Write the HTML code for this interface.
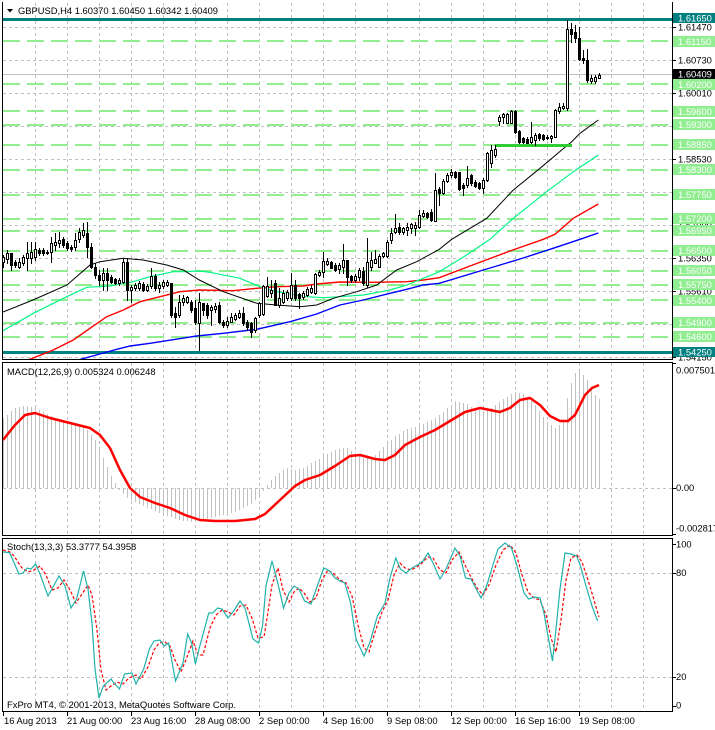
<!DOCTYPE html>
<html><head><meta charset="utf-8">
<style>
html,body{margin:0;padding:0;background:#fff;}
svg{display:block;}
text{font-family:"Liberation Sans",Arial,sans-serif;font-size:9.4px;fill:#000;}
.w{fill:#fff;}
</style></head><body>
<svg id="c" width="715" height="730" viewBox="0 0 715 730" xmlns="http://www.w3.org/2000/svg">
<defs>
<clipPath id="cm"><rect x="3" y="2" width="669" height="357"/></clipPath>
<clipPath id="cd"><rect x="3" y="363" width="669" height="172"/></clipPath>
<clipPath id="cs"><rect x="3" y="539" width="669" height="172"/></clipPath>
</defs>
<rect x="0" y="0" width="715" height="730" fill="#fff"/>

<!-- vertical grid -->
<path shape-rendering="crispEdges" stroke="#c0c0c0" stroke-dasharray="3,3" fill="none" d="M35.5 3V711M67.5 3V711M99.5 3V711M131.5 3V711M163.5 3V711M195.5 3V711M227.5 3V711M259.5 3V711M291.5 3V711M323.5 3V711M355.5 3V711M387.5 3V711M419.5 3V711M451.5 3V711M483.5 3V711M515.5 3V711M547.5 3V711M579.5 3V711M611.5 3V711M643.5 3V711"/>
<rect x="3" y="360" width="669" height="2" fill="#fff"/>
<rect x="3" y="536" width="669" height="2" fill="#fff"/>
<!-- horizontal grid main -->
<path shape-rendering="crispEdges" stroke="#c0c0c0" stroke-dasharray="3,3" fill="none" d="M3 27.5H672M3 60.5H672M3 93.5H672M3 126.5H672M3 159.5H672M3 192.5H672M3 225.5H672M3 258.5H672M3 291.5H672M3 324.5H672M3 357.5H672M3 488.5H672M3 573.5H672M3 677.5H672"/>
<!-- green dashed levels -->
<path shape-rendering="crispEdges" stroke="#90ee90" stroke-width="2" stroke-dasharray="17,7" fill="none" d="M3 41H672M3 84H672M3 111H672M3 125H672M3 145H672M3 170H672M3 195H672M3 219H672M3 231H672M3 251H672M3 271H672M3 285H672M3 300H672M3 323H672M3 337H672"/>
<!-- current price line -->
<path shape-rendering="crispEdges" stroke="#c0c0c0" d="M3 74.5H672"/>
<!-- teal lines -->
<path shape-rendering="crispEdges" stroke="#008080" stroke-width="3" d="M3 19.5H672M3 352.5H672"/>

<g clip-path="url(#cm)" fill="none">
<polyline stroke="#0000ff" stroke-width="1.4" points="78,360 100,354 116.7,349.3 130,346 150,343.3 188.3,337.3 196.7,336 223.3,333.3 256.7,329.3 290,321.7 316.7,314 340,305 363.3,300 390,293.3 406.7,289.3 423.3,285 439.3,283.3 480,271 520,259 555,247.7 580,239.3 598.3,233"/>
<polyline stroke="#ff0000" stroke-width="1.4" points="28,360 51.7,350.7 73.3,340 90,328.3 106.7,316.7 123.3,310 140,301.7 160,296.7 180,291.7 199.3,290 233.3,290.7 256.7,288.3 276.7,286.7 303.3,286 316.7,284 340,282 373.3,282.3 406.7,281.7 423.3,280 439.3,277.7 470,266 510,251 543.3,239.3 555,234.3 573.3,218.3 598.3,204"/>
<polyline stroke="#00f585" stroke-width="1.2" points="3,330.7 33.3,313.3 66.7,296.7 86.7,287.3 110,286 133.3,281.7 150,276.7 173.3,271.7 185,271.7 199.3,271 210,272.3 240,278.3 260,286.7 276.7,291.7 306.7,296.7 323.3,297.7 340,296.7 363.3,295 390,290 406.7,285 423.3,278.3 439.3,271.7 465,256 490,239.3 513.3,218.3 546.7,191.7 573.3,171.7 598.3,155"/>
<polyline stroke="#000" stroke-width="1" points="3,312 33,300 67,285 90,265 100,261.7 123.3,258.3 143.3,260 166.7,265 183.3,270 199.3,280 223.3,291.7 256.7,303.3 276.7,305 300,306.7 316.7,305 333.3,298.3 356.7,291.7 376.7,285 396.7,270 416.7,261.7 439.3,249.3 451.7,239.3 486.7,218.3 513.3,190 540,168.3 561.7,150 571.7,141.7 580,133.3 598.3,120"/>
<path shape-rendering="crispEdges" stroke="#32cd32" stroke-width="3" d="M495 145.5H572"/>
<g id="candles" shape-rendering="crispEdges"></g>
</g>

<!-- MACD -->
<g clip-path="url(#cd)">
<g id="hist" shape-rendering="crispEdges" stroke="#c0c0c0"></g>
<polyline fill="none" stroke="#ff0000" stroke-width="2.5" stroke-linejoin="round" points="3,440 15,425 25,415 35,413 50,418 70,423 90,428 100,435 110,448 120,470 130,488 140,497 155,503 170,508 185,515 200,520 215,521 235,521 255,519 265,514 280,500 295,486 305,480 320,475 335,466 350,456 360,455 375,459 385,460 395,455 405,445 420,437 435,430 450,421 465,412 480,408 490,410 500,412 510,408 520,400 530,398 540,405 550,416 560,421 568,421 575,415 585,395 592,388 599,385"/>
</g>

<!-- Stoch -->
<g clip-path="url(#cs)" fill="none">
<polyline stroke="#ff0000" stroke-width="1.2" stroke-dasharray="3,2" points="3,550 10,552 14,556 22,568 28,572 34,570 40,566 46,575 52,590 58,588 64,580 70,590 76,603 82,594 88,585 92,595 97,630 101,670 106,690 111,686 117,682 123,684 129,678 136,675 141,679 148,667 154,650 159,643 165,642 170,646 175,660 181,672 187,657 193,641 198,655 203,655 210,628 216,615 222,610 228,612 234,615 240,606 246,605 252,618 258,638 264,637 268,612 272,585 278,568 283,590 289,602 294,592 299,588 304,593 310,602 316,598 322,580 328,570 334,574 340,580 346,583 352,596 358,625 364,648 369,652 375,632 382,612 388,600 394,575 400,563 405,568 411,570 417,567 422,563 428,557 433,558 440,570 446,573 452,560 459,552 465,565 471,577 477,588 483,595 489,585 496,565 503,550 510,545 516,553 522,575 528,592 534,598 540,600 546,615 551,638 556,652 561,620 566,580 571,558 577,555 582,562 588,580 594,600 599,617"/>
<polyline stroke="#20b2aa" stroke-width="1.2" points="3,552 9.6,552.7 19,574 23,573 27,568 31,569 35.6,564 40,574 48,596 53.6,586 59,576 65,586 71,608 76.6,599 83.5,571 88,589 92,623 95,669 99,698 103.4,686 111,679 114,683 119.5,689 124.5,674 132,673 136,684 143.7,669 149.4,649 154,641 160,640 164,646 168.6,643 175.5,681 183,663 187.7,634 191.6,643 195.4,664 199,649 208.8,613 212.6,613 217.6,608 222,609 228,618 233.7,611 240,601 245,608 253,639 258.6,643 262.5,626 266,586 272,561 277.8,583 283.5,608 289,593 294,586 299,589 304.6,601 311,604 318,584 323.8,568 329.5,571 335,578 340,581 344.8,583 350.6,603 356,639 364,656 369.7,643 377.4,616 385,603 390,578 395.8,558 400.4,569 406,573 412,568 417.6,565 423,561 428,553 433,563 440,579 446,569 455,548 460,556 465.5,578 471,579 481,598 486.6,586 492,568 498,549 505,543 511.5,548 517,566 524,593 528.7,599 534.5,597 540,598 544,613 548,636 552.5,661 555.6,633 560,589 565,553 571,554 576.6,556 580.5,566 586,586 592,606 597.7,621"/>
</g>

<!-- panel borders -->
<g shape-rendering="crispEdges" fill="none" stroke="#000">
<path d="M2.5 2V359.5H672.5V2"/>
<rect x="2.5" y="362.5" width="670" height="173"/>
<rect x="2.5" y="538.5" width="670" height="173"/>
<path d="M672 27.5h4M672 60.5h4M672 93.5h4M672 126.5h4M672 159.5h4M672 192.5h4M672 225.5h4M672 258.5h4M672 291.5h4M672 324.5h4M672 357.5h4M672 363.5h4M672 488.5h4M672 534.5h4M672 544.5h4M672 573.5h4M672 677.5h4M672 706.5h4"/>
<path d="M3.5 712v4M67.5 712v4M131.5 712v4M195.5 712v4M259.5 712v4M323.5 712v4M387.5 712v4M451.5 712v4M515.5 712v4M579.5 712v4"/>
</g>

<!-- header -->
<polygon points="7,9 13,9 10,12.5" fill="#000"/>
<text x="18" y="14" textLength="200" lengthAdjust="spacingAndGlyphs">GBPUSD,H4  1.60370 1.60450 1.60342 1.60409</text>
<text x="7" y="375">MACD(12,26,9) 0.005324 0.006248</text>
<text x="7" y="550">Stoch(13,3,3) 53.3777 54.3958</text>
<text x="7" y="708" textLength="229" lengthAdjust="spacingAndGlyphs">FxPro MT4, © 2001-2013, MetaQuotes Software Corp.</text>

<!-- black axis labels main -->
<g>
<text x="678" y="30.4">1.61470</text>
<text x="678" y="63.4">1.60730</text>
<text x="678" y="96.4">1.60010</text>
<text x="678" y="129.4">1.59270</text>
<text x="678" y="162.4">1.58530</text>
<text x="678" y="195.4">1.57810</text>
<text x="678" y="228.4">1.57090</text>
<text x="678" y="261.4">1.56350</text>
<text x="678" y="294.4">1.55610</text>
<text x="678" y="327.4">1.54890</text>
<text x="678" y="360.4">1.54150</text>
</g>
<!-- colored labels -->
<g shape-rendering="crispEdges">
<rect x="673" y="36" width="42" height="11" fill="#90ee90"/>
<rect x="673" y="79" width="42" height="11" fill="#90ee90"/>
<rect x="673" y="106" width="42" height="11" fill="#90ee90"/>
<rect x="673" y="119" width="42" height="11" fill="#90ee90"/>
<rect x="673" y="139" width="42" height="11" fill="#90ee90"/>
<rect x="673" y="164" width="42" height="11" fill="#90ee90"/>
<rect x="673" y="189" width="42" height="11" fill="#90ee90"/>
<rect x="673" y="213" width="42" height="11" fill="#90ee90"/>
<rect x="673" y="225" width="42" height="11" fill="#90ee90"/>
<rect x="673" y="245" width="42" height="11" fill="#90ee90"/>
<rect x="673" y="265" width="42" height="11" fill="#90ee90"/>
<rect x="673" y="279" width="42" height="11" fill="#90ee90"/>
<rect x="673" y="295" width="42" height="11" fill="#90ee90"/>
<rect x="673" y="317" width="42" height="11" fill="#90ee90"/>
<rect x="673" y="331" width="42" height="11" fill="#90ee90"/>
<rect x="673" y="13" width="42" height="10" fill="#008080"/>
<rect x="673" y="347" width="42" height="10" fill="#008080"/>
<rect x="673" y="69" width="42" height="10" fill="#000"/>
</g>
<g class="w">
<text class="w" x="678" y="45">1.61150</text>
<text class="w" x="678" y="88">1.60200</text>
<text class="w" x="678" y="115">1.59600</text>
<text class="w" x="678" y="128">1.59300</text>
<text class="w" x="678" y="148">1.58850</text>
<text class="w" x="678" y="173">1.58300</text>
<text class="w" x="678" y="198">1.57750</text>
<text class="w" x="678" y="222">1.57200</text>
<text class="w" x="678" y="234">1.56950</text>
<text class="w" x="678" y="254">1.56500</text>
<text class="w" x="678" y="274">1.56050</text>
<text class="w" x="678" y="288">1.55750</text>
<text class="w" x="678" y="304">1.55400</text>
<text class="w" x="678" y="326">1.54900</text>
<text class="w" x="678" y="340">1.54600</text>
<text class="w" x="678" y="21.5">1.61650</text>
<text class="w" x="678" y="355.5">1.54250</text>
<text class="w" x="678" y="77.5">1.60409</text>
</g>

<!-- MACD / Stoch axis labels -->
<text x="676" y="373.3">0.007501</text>
<text x="676" y="491">0.00</text>
<text x="676" y="531.7">-0.002817</text>
<text x="676" y="547.7">100</text>
<text x="676" y="576">80</text>
<text x="676" y="680">20</text>
<text x="676" y="708.5">0</text>

<!-- x axis labels -->
<text x="4" y="724">16 Aug 2013</text>
<text x="67" y="724">21 Aug 00:00</text>
<text x="131" y="724">23 Aug 16:00</text>
<text x="195" y="724">28 Aug 08:00</text>
<text x="259" y="724">2 Sep 00:00</text>
<text x="323" y="724">4 Sep 16:00</text>
<text x="387" y="724">9 Sep 08:00</text>
<text x="451" y="724">12 Sep 00:00</text>
<text x="515" y="724">16 Sep 16:00</text>
<text x="579" y="724">19 Sep 08:00</text>
</svg>
<script>
(function(){
var D=[[256.7,261.7,255,266.7,1],[253,259,250,263,1],[253,265,253,270,0],[262,265,260,267,0],[261.7,266.7,258,268,1],[257,263,255,265,1],[252.7,258,241.7,270,1],[251.7,258,241.7,263,1],[249.3,256.7,241.7,260,1],[250,253.3,248,255,0],[250,253.3,248,255,0],[252,253,250,254,0],[243.3,252.3,236.7,261.7,1],[241.7,245,233.3,250,1],[240,243,231.7,246.7,1],[239.3,245,236.7,246.7,0],[243.3,248.3,241,250,0],[246.7,249.3,245,251,0],[240,246.7,233.3,250,1],[231.7,239.3,228.3,241.7,1],[230,235,223.3,236.7,1],[232.7,246.7,221.7,256.7,0],[246.7,266.7,243.3,268.3,0],[266.7,275,263.3,278.3,0],[275,280,270,285,0],[273.3,280,268.3,290,1],[272.7,280,268.3,290,0],[276.7,281.7,275,283,0],[279.3,282.7,278,284,0],[280,283,278.3,285,1],[261.7,281.7,258.3,283.3,1],[261.7,290,258.3,300,0],[287.3,290,285,301.7,1],[285,288.3,283,290,1],[283.3,288.3,281,290,1],[284,290,282,291,0],[286,290,284,291,1],[276,286,268.3,288.3,1],[276,288.3,274,290,0],[285,288.3,281.7,291.7,1],[281.7,286,280,288,1],[282.3,285,280,286,1],[283.3,315,283.3,316.7,0],[313.3,316.7,306.7,326.7,0],[301.7,315,295,316.7,1],[298.3,301.7,295,305,1],[297.3,301.7,296,303,1],[301.7,310,300,312,0],[308,322,300,324,0],[302,323,293,350,1],[302.7,310,302.7,315,0],[305,315,303,318,0],[306.7,310,305,325,1],[305.7,309.3,303.3,311.7,1],[305,321.7,301.7,323.3,0],[321.7,325,320,326.7,0],[320.7,325,316.7,326.7,1],[316.7,321.7,313.3,322.3,1],[315,319.3,313,320,1],[312.7,316.7,310,318.3,1],[313.3,323.3,306.7,325,0],[321.7,326.7,320,330,0],[322.7,331.7,321.7,336.7,0],[318.3,330,316.7,331.7,1],[303.3,315,301.7,316.7,1],[286,314,285,315,1],[286,296,277,296.7,1],[290,292.7,280,296.7,1],[283.3,305,280,305,0],[298.3,305,288.3,306.7,1],[292.7,301.7,290,303.3,1],[291.7,298.3,290,300,1],[285,298.3,273,300,1],[285,298.3,280,300,0],[294,297.7,293,308,0],[292.7,297.3,291,299,1],[289,295,286.7,296,1],[288.3,291.7,285,292.7,1],[274,293.3,273.3,294,1],[271.7,275,270,276,1],[260.7,271.7,251.7,276.7,1],[260.7,264,258,265,1],[261.7,267.7,260.7,268.3,0],[265,270,263,271,0],[265,269.3,263.3,273.3,1],[260,266.7,244,273.3,1],[260,276.7,260,285,0],[276,280,275,281.7,0],[276,280,274,282,1],[270,276.7,268.3,280,1],[270.7,283.3,266.7,285,0],[261.7,285,238.3,286.7,1],[260,266.7,251.7,270,1],[259.3,262.7,250,262.7,1],[256,266.7,254,267,1],[253.3,256,251.7,256.7,1],[241.7,256,240,256.7,1],[232.7,240,228.3,243,1],[228,232,214,233,1],[226.7,231.7,223.3,234,0],[228.3,231.7,226.7,234,1],[227.3,230,223.3,235,1],[224,227.7,223.3,233.3,1],[224.5,227.5,222,235,1],[215,227.3,210,228.3,1],[213.3,215.7,210,216.7,1],[213.3,216.7,212,217.7,0],[212.3,220.3,209.3,220.7,0],[190,220.5,173,221,1],[189.3,193.3,186.7,205,0],[180.7,193.3,179,194,1],[175,180.7,173,182,1],[171.7,175,169.3,176.7,1],[172.3,177.3,171,178,0],[172.3,189,172,190,0],[185,188.3,183,195,0],[178.3,185,166,186.7,1],[175,183.3,174,185,0],[181.7,186,180,187,0],[183.3,188.3,182,189,0],[180,188.3,178,193,1],[153.3,180,152,181,1],[150,163.3,145,166.7,1],[149.3,155,145,156.7,1],[116.7,120.7,115,125,1],[114,116.7,113.3,123.3,1],[114,122.7,112.7,123.3,1],[110.7,122.7,110,123.3,1],[110.7,131.7,110,132.7,0],[130.7,141.7,130,142.7,0],[138.3,141.7,136.7,142.7,0],[139.3,142.7,136.7,143.3,0],[136.7,141.7,122.3,143.3,1],[135,140,133.3,145,1],[134,138.3,132.7,140,0],[135,139.3,134,140,0],[136.7,138.3,135,139.3,0],[136,138.3,135,141.7,1],[110,136.7,109.3,136.7,1],[106.7,110.7,103.3,113.3,1],[106,108.3,103.3,109.3,1],[29.3,108.3,20.3,109.7,1],[29.3,34,23.3,41.7,0],[31.5,38,25,41.7,0],[38.3,59,26.7,60,0],[58.3,60.3,50,63,0],[60,80,49.3,82,0],[78.3,80.7,75,82.7,1],[76.7,80.7,75,82.7,1],[75,77.5,72.7,78.3,1]];
var NS="http://www.w3.org/2000/svg";
var g=document.getElementById("candles");
function el(n,a){var e=document.createElementNS(NS,n);for(var k in a)e.setAttribute(k,a[k]);return e;}
for(var i=0;i<D.length;i++){
 var c=3+4*i,d=D[i];
 g.appendChild(el("line",{x1:c+0.5,y1:Math.round(d[2]),x2:c+0.5,y2:Math.round(d[3])+1,stroke:"#000"}));
 var t=Math.round(d[0]),b=Math.round(d[1]);if(b-t<1)b=t+1;
 if(d[4])g.appendChild(el("rect",{x:c-0.5,y:t+0.5,width:2,height:b-t,fill:"#fff",stroke:"#000"}));
 else g.appendChild(el("rect",{x:c-1,y:t,width:3,height:b-t+1,fill:"#000"}));
}
var H=[[3,418],[15,408],[25,405],[40,410],[55,418],[70,422],[85,428],[95,440],[105,462],[113,480],[120,492],[130,500],[145,507],[160,513],[175,519],[190,522],[205,520],[220,516],[235,512],[248,506],[258,498],[266,486],[275,476],[285,468],[295,470],[305,467],[315,461],[325,455],[335,450],[345,447],[355,454],[365,459],[375,455],[385,445],[395,436],[405,430],[420,425],[435,418],[445,410],[455,401],[465,403],[475,409],[485,412],[495,405],[505,398],[515,392],[525,395],[535,405],[545,420],[555,428],[559,425],[563,422],[567,398],[571,383],[575,373],[579,372],[583,375],[587,380],[591,387],[595,395],[599,399]];
function hy(x){for(var j=0;j<H.length-1;j++){if(x>=H[j][0]&&x<=H[j+1][0]){var f=(x-H[j][0])/(H[j+1][0]-H[j][0]);return H[j][1]+f*(H[j+1][1]-H[j][1]);}}return H[H.length-1][1];}
var h=document.getElementById("hist");
for(var i=0;i<150;i++){var x=3+4*i,y=Math.round(hy(x));
 h.appendChild(el("line",{x1:x+0.5,y1:488,x2:x+0.5,y2:y}));}
})();
</script>
</body></html>
